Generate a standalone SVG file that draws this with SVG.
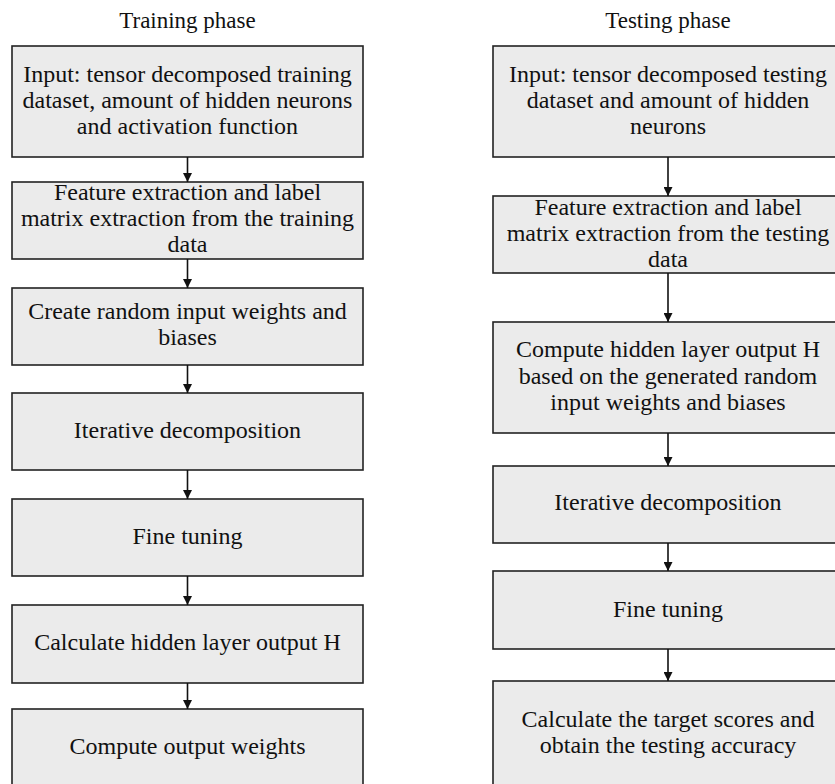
<svg xmlns="http://www.w3.org/2000/svg" width="835" height="784" viewBox="0 0 835 784">
<style>
.box{fill:#ebebeb;stroke:#222;stroke-width:1.6}
.t{font-family:'Liberation Serif','Times New Roman','DejaVu Serif',serif;font-size:24px;fill:#111;text-anchor:middle}
.title{font-family:'Liberation Serif','Times New Roman','DejaVu Serif',serif;font-size:23px;fill:#111;text-anchor:middle}
.c{stroke:#111;stroke-width:1.6;fill:none;marker-end:url(#ah)}
</style>
<defs>
<marker id="ah" viewBox="0 0 10 10" refX="10" refY="5" markerWidth="9" markerHeight="9" markerUnits="userSpaceOnUse" orient="auto">
<path d="M0,0 L10,5 L0,10 Z" fill="#111"/>
</marker>
</defs>
<rect width="835" height="784" fill="#fff"/>
<text class="title" x="187.5" y="28">Training phase</text>
<text class="title" x="668" y="28">Testing phase</text>

<g id="tr1"><rect class="box" x="12" y="46" width="351" height="111"/>
<text class="t" x="187.5" y="82">Input: tensor decomposed training</text>
<text class="t" x="187.5" y="108">dataset, amount of hidden neurons</text>
<text class="t" x="187.5" y="134">and activation function</text></g>
<g id="tr2"><rect class="box" x="12" y="182" width="351" height="77"/>
<text class="t" x="187.5" y="200">Feature extraction and label</text>
<text class="t" x="187.5" y="226">matrix extraction from the training</text>
<text class="t" x="187.5" y="252">data</text></g>
<g id="tr3"><rect class="box" x="12" y="288" width="351" height="77"/>
<text class="t" x="187.5" y="319">Create random input weights and</text>
<text class="t" x="187.5" y="345">biases</text></g>
<g id="tr4"><rect class="box" x="12" y="393" width="351" height="77"/>
<text class="t" x="187.5" y="438">Iterative decomposition</text></g>
<g id="tr5"><rect class="box" x="12" y="499" width="351" height="77"/>
<text class="t" x="187.5" y="544">Fine tuning</text></g>
<g id="tr6"><rect class="box" x="12" y="605" width="351" height="78"/>
<text class="t" x="187.5" y="650">Calculate hidden layer output H</text></g>
<g id="tr7"><rect class="box" x="12" y="709" width="351" height="80"/>
<text class="t" x="187.5" y="754">Compute output weights</text></g>

<g id="te1"><rect class="box" x="493" y="46" width="351" height="111"/>
<text class="t" x="668" y="82">Input: tensor decomposed testing</text>
<text class="t" x="668" y="108">dataset and amount of hidden</text>
<text class="t" x="668" y="134">neurons</text></g>
<g id="te2"><rect class="box" x="493" y="196" width="351" height="77"/>
<text class="t" x="668" y="215">Feature extraction and label</text>
<text class="t" x="668" y="241">matrix extraction from the testing</text>
<text class="t" x="668" y="267">data</text></g>
<g id="te3"><rect class="box" x="493" y="322" width="351" height="111"/>
<text class="t" x="668" y="357">Compute hidden layer output H</text>
<text class="t" x="668" y="384">based on the generated random</text>
<text class="t" x="668" y="410">input weights and biases</text></g>
<g id="te4"><rect class="box" x="493" y="466" width="351" height="77"/>
<text class="t" x="668" y="510">Iterative decomposition</text></g>
<g id="te5"><rect class="box" x="493" y="571" width="351" height="78"/>
<text class="t" x="668" y="617">Fine tuning</text></g>
<g id="te6"><rect class="box" x="493" y="681" width="351" height="110"/>
<text class="t" x="668" y="727">Calculate the target scores and</text>
<text class="t" x="668" y="753">obtain the testing accuracy</text></g>

<g id="connectors">
<line class="c" x1="187.5" y1="157" x2="187.5" y2="182"/>
<line class="c" x1="187.5" y1="259" x2="187.5" y2="288"/>
<line class="c" x1="187.5" y1="365" x2="187.5" y2="393"/>
<line class="c" x1="187.5" y1="470" x2="187.5" y2="499"/>
<line class="c" x1="187.5" y1="576" x2="187.5" y2="605"/>
<line class="c" x1="187.5" y1="683" x2="187.5" y2="709"/>
<line class="c" x1="668" y1="157" x2="668" y2="196"/>
<line class="c" x1="668" y1="273" x2="668" y2="322"/>
<line class="c" x1="668" y1="433" x2="668" y2="466"/>
<line class="c" x1="668" y1="543" x2="668" y2="571"/>
<line class="c" x1="668" y1="649" x2="668" y2="681"/>
</g>
</svg>
